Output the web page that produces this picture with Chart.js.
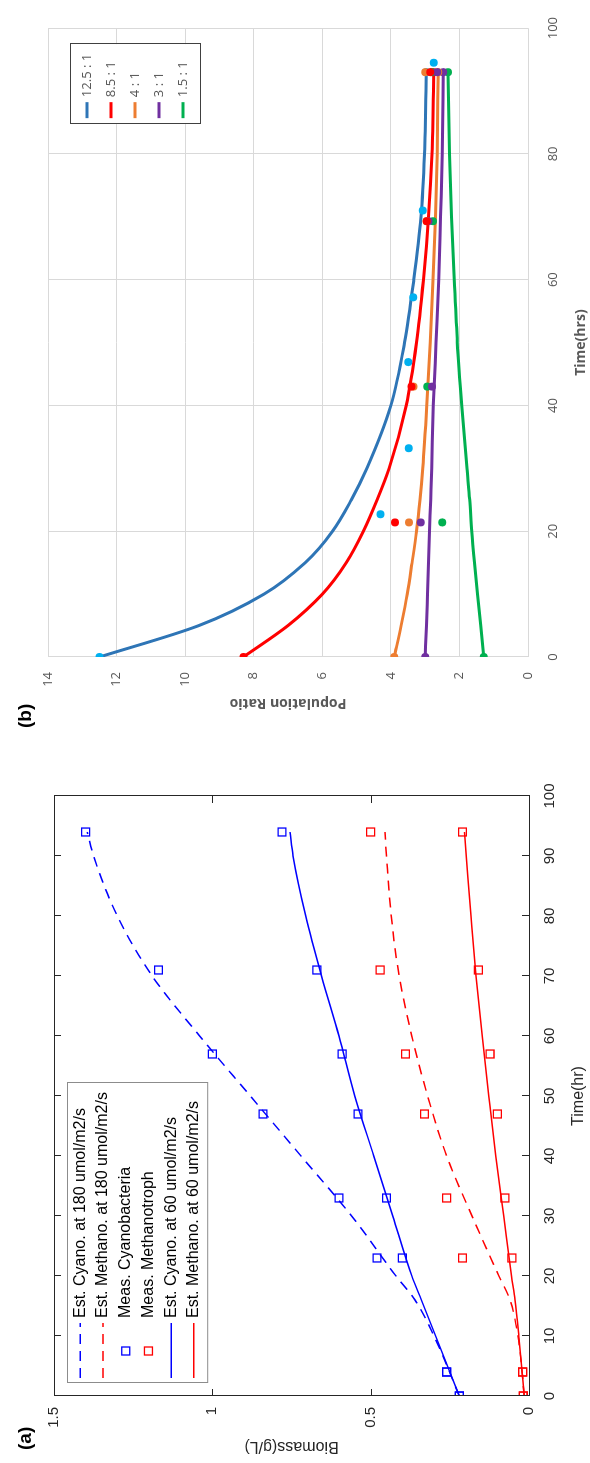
<!DOCTYPE html>
<html>
<head>
<meta charset="utf-8">
<script src="https://cdn.jsdelivr.net/npm/chart.js@4.4.1/dist/chart.umd.min.js"></script>
<style>
  html, body { margin: 0; padding: 0; background: #fff; width: 590px; height: 1463px; overflow: hidden; }
  /* The figure is laid out landscape and turned a quarter turn counter-clockwise */
  #fig { position: absolute; left: 0; top: 0; width: 1463px; height: 590px;
         transform-origin: 0 0; transform: translate(0, 1463px) rotate(-90deg); background: #fff; }
  #pa { position: absolute; left: 0; top: 0; width: 731px; height: 590px; }
  #pb { position: absolute; left: 731px; top: 0; width: 732px; height: 590px; }
  .tag { position: absolute; font: bold 19px "Liberation Sans", Arial, sans-serif; color: #000; }
</style>
</head>
<body>
<div id="fig">
  <canvas id="pa" width="731" height="590"></canvas>
  <canvas id="pb" width="732" height="590"></canvas>
  <div class="tag" style="left:13px; top:14px;">(a)</div>
  <div class="tag" style="left:735px; top:14px;">(b)</div>
</div>
<script>
// ---------- Panel (a): biomass vs time ----------
const fitTime       = [0, 10, 16, 20, 30, 40, 50, 60, 70, 80, 90, 94];
const estCyano180   = [0.22, 0.30, 0.36, 0.42, 0.56, 0.72, 0.88, 1.04, 1.19, 1.30, 1.375, 1.395];
const estMethano180 = [0.015, 0.035, 0.06, 0.095, 0.18, 0.26, 0.32, 0.37, 0.41, 0.435, 0.45, 0.455];
const estCyano60    = [0.22, 0.295, 0.34, 0.37, 0.43, 0.49, 0.55, 0.60, 0.655, 0.705, 0.745, 0.755];
const estMethano60  = [0.015, 0.032, 0.044, 0.055, 0.08, 0.105, 0.127, 0.148, 0.167, 0.183, 0.198, 0.204];

const sampleTime     = [0, 4, 23, 33, 47, 57, 71, 94];
const measCyano180   = [0.22, 0.26, 0.48, 0.60, 0.84, 1.00, 1.17, 1.40];
const measCyano60    = [0.22, 0.26, 0.40, 0.45, 0.54, 0.59, 0.67, 0.78];
const measMethano180 = [0.018, 0.02, 0.21, 0.26, 0.33, 0.39, 0.47, 0.50];
const measMethano60  = [0.018, 0.02, 0.054, 0.076, 0.10, 0.123, 0.16, 0.21];

const biomassTicks = [0, 0.5, 1, 1.5];

// ---------- Panel (b): population ratio vs time ----------
const ratioTime  = [0, 5, 10, 15, 20, 25, 30, 40, 50, 60, 70, 80, 93];
const ratio125   = [12.5, 9.6, 7.7, 6.5, 5.7, 5.15, 4.7, 4.0, 3.6, 3.33, 3.12, 3.02, 2.97];
const ratio85    = [8.3, 7.0, 6.0, 5.3, 4.8, 4.4, 4.05, 3.55, 3.25, 3.05, 2.9, 2.8, 2.75];
const ratio4     = [3.9, 3.7, 3.52, 3.38, 3.25, 3.15, 3.07, 2.95, 2.85, 2.77, 2.7, 2.65, 2.62];
const ratio3     = [3.0, 2.96, 2.93, 2.9, 2.87, 2.84, 2.81, 2.76, 2.68, 2.6, 2.55, 2.5, 2.47];
const ratio15    = [1.29, 1.38, 1.47, 1.56, 1.64, 1.7, 1.78, 1.93, 2.06, 2.15, 2.23, 2.29, 2.33];
const ratioNames = ['12.5 : 1', '8.5 : 1', '4 : 1', '3 : 1', '1.5 : 1'];

const obsTime125 = [22.7, 33.2, 46.9, 57.2, 71, 94.5];
const obs125     = [4.3, 3.48, 3.49, 3.35, 3.07, 2.75];
const obsTime85  = [21.4, 43, 69.3, 93];
const obs85      = [3.88, 3.4, 2.95, 2.85];
const obsTime4   = [21.4, 43, 69.3, 93];
const obs4       = [3.47, 3.34, 2.96, 3.0];
const obsTime3   = [21.4, 43, 69.3, 93];
const obs3       = [3.13, 2.8, 2.9, 2.65];
const obsTime15  = [21.4, 43, 69.3, 93];
const obs15      = [2.5, 2.94, 2.77, 2.81];

const pts = (xs, ys) => xs.map((x, i) => ({ x, y: ys[i] }));

// ---------- shared helpers ----------
const MATLAB_FONT = '"Liberation Sans", Arial, Helvetica, sans-serif';
const AXIS_INK = '#262626';

// Box with inward ticks on all four sides (MATLAB-style axes)
const boxTicks = {
  id: 'boxTicks',
  afterDatasetsDraw(chart) {
    const { ctx, chartArea: a, scales: { x, y } } = chart;
    const len = 7;
    ctx.save();
    ctx.strokeStyle = AXIS_INK;
    ctx.lineWidth = 1;
    ctx.beginPath();
    x.ticks.forEach(t => {
      const px = Math.round(x.getPixelForValue(t.value)) + 0.5;
      ctx.moveTo(px, a.bottom); ctx.lineTo(px, a.bottom - len);
      ctx.moveTo(px, a.top);    ctx.lineTo(px, a.top + len);
    });
    y.ticks.forEach(t => {
      const py = Math.round(y.getPixelForValue(t.value)) + 0.5;
      ctx.moveTo(a.left, py);  ctx.lineTo(a.left + len, py);
      ctx.moveTo(a.right, py); ctx.lineTo(a.right - len, py);
    });
    ctx.stroke();
    ctx.strokeRect(Math.round(a.left) + 0.5, Math.round(a.top) + 0.5,
                   Math.round(a.right - a.left), Math.round(a.bottom - a.top));
    ctx.restore();
  }
};

// MATLAB-style legend drawn inside the axes, north-west corner
const legendA = {
  id: 'legendA',
  afterDraw(chart) {
    const { ctx, chartArea: a } = chart;
    const order = [0, 1, 2, 3, 4, 5];
    const x0 = a.left + 13, y0 = a.top + 13;
    const rowH = 22.7, w = 300, h = rowH * order.length + 4;
    ctx.save();
    ctx.fillStyle = '#fff';
    ctx.fillRect(x0, y0, w, h);
    ctx.strokeStyle = '#8c8c8c';
    ctx.lineWidth = 1;
    ctx.strokeRect(Math.round(x0) + 0.5, Math.round(y0) + 0.5, w, h);
    ctx.font = '16px ' + MATLAB_FONT;
    ctx.textBaseline = 'middle';
    order.forEach((di, i) => {
      const ds = chart.data.datasets[di];
      const cy = y0 + 2 + rowH * (i + 0.5);
      if (ds.showLine === false) {
        ctx.strokeStyle = ds.pointBorderColor;
        ctx.lineWidth = 1.3;
        ctx.strokeRect(x0 + 32 - 4, cy - 4, 8, 8);
      } else {
        ctx.strokeStyle = ds.borderColor;
        ctx.lineWidth = 1.5;
        ctx.setLineDash(ds.borderDash || []);
        ctx.beginPath();
        ctx.moveTo(x0 + 5, cy); ctx.lineTo(x0 + 60, cy);
        ctx.stroke();
        ctx.setLineDash([]);
      }
      ctx.fillStyle = '#000';
      ctx.fillText(ds.label, x0 + 65, cy);
    });
    ctx.restore();
  }
};

const curveA = (label, xs, ys, color, dash) => ({
  label, data: pts(xs, ys), borderColor: color, borderWidth: 1.5,
  borderDash: dash, pointRadius: 0, tension: 0.4, cubicInterpolationMode: 'monotone',
  showLine: true, fill: false
});
const marksA = (label, data, color) => ({
  label, data, showLine: false, pointStyle: 'rect', pointRadius: 5.6,
  pointBorderColor: color, pointBackgroundColor: 'rgba(0,0,0,0)', pointBorderWidth: 1.3,
  borderColor: color, backgroundColor: 'rgba(0,0,0,0)'
});

new Chart(document.getElementById('pa'), {
  type: 'scatter',
  data: {
    datasets: [
      curveA('Est. Cyano. at 180 umol/m2/s', fitTime, estCyano180, '#0000ff', [10, 7]),
      curveA('Est. Methano. at 180 umol/m2/s', fitTime, estMethano180, '#ff0000', [10, 7]),
      marksA('Meas. Cyanobacteria', pts(sampleTime, measCyano180).concat(pts(sampleTime, measCyano60)), '#0000ff'),
      marksA('Meas. Methanotroph', pts(sampleTime, measMethano180).concat(pts(sampleTime, measMethano60)), '#ff0000'),
      curveA('Est. Cyano. at 60 umol/m2/s', fitTime, estCyano60, '#0000ff', []),
      curveA('Est. Methano. at 60 umol/m2/s', fitTime, estMethano60, '#ff0000', [])
    ]
  },
  options: {
    responsive: false, animation: false, devicePixelRatio: 1,
    layout: { padding: { left: 0, top: 54, right: 64, bottom: 0 } },
    plugins: { legend: { display: false }, tooltip: { enabled: false } },
    scales: {
      x: {
        type: 'linear', min: 0, max: 100,
        ticks: { stepSize: 10, color: AXIS_INK, font: { family: MATLAB_FONT, size: 15 }, padding: 12, maxRotation: 0 },
        grid: { display: false, drawTicks: false }, border: { display: false },
        title: { display: true, text: 'Time(hr)', color: AXIS_INK, font: { family: MATLAB_FONT, size: 16 }, padding: { top: 0, bottom: 1.4 } },
        afterFit: s => { s.height = 61; }
      },
      y: {
        type: 'linear', min: 0, max: 1.5,
        afterBuildTicks: s => { s.ticks = biomassTicks.map(v => ({ value: v })); },
        ticks: { color: AXIS_INK, font: { family: MATLAB_FONT, size: 15 }, padding: 11, callback: v => String(v) },
        grid: { display: false, drawTicks: false }, border: { display: false },
        title: { display: true, text: 'Biomass(g/L)', color: AXIS_INK, font: { family: MATLAB_FONT, size: 16 }, padding: { top: 7.4, bottom: 0 } },
        afterFit: s => { s.width = 67; }
      }
    }
  },
  plugins: [boxTicks, legendA]
});

// ---------- Panel (b) ----------
const EXCEL_FONT = '"Open Sans", "Liberation Sans", Arial, sans-serif';
const INK_B = '#595959';
const lineColors = ['#2e75b6', '#ff0000', '#ed7d31', '#7030a0', '#00b050'];
const dotColors  = ['#00b0f0', '#ff0000', '#ed7d31', '#7030a0', '#00b050'];
const curvesB = [ratio125, ratio85, ratio4, ratio3, ratio15];
const obsB = [[obsTime125, obs125], [obsTime85, obs85], [obsTime4, obs4], [obsTime3, obs3], [obsTime15, obs15]];

const dsB = [];
obsB.forEach(([xs, ys], i) => dsB.push({
  label: ratioNames[i] + ' obs', data: pts(xs, ys), showLine: false,
  pointRadius: 4, pointBackgroundColor: dotColors[i], pointBorderColor: dotColors[i], pointBorderWidth: 0
}));
curvesB.forEach((ys, i) => dsB.push({
  label: ratioNames[i], data: pts(ratioTime, ys), showLine: true,
  borderColor: lineColors[i], borderWidth: 3, tension: 0.4, cubicInterpolationMode: 'monotone',
  pointRadius: c => (c.dataIndex === 0 || c.dataIndex === ys.length - 1) ? 4 : 0,
  pointBackgroundColor: dotColors[i], pointBorderColor: dotColors[i], pointBorderWidth: 0
}));

const legendB = {
  id: 'legendB',
  afterDraw(chart) {
    const { ctx, chartArea: a } = chart;
    const x0 = a.right - 96, y0 = a.top + 22;
    const rowH = 24, w = 80, h = rowH * ratioNames.length + 10;
    ctx.save();
    ctx.fillStyle = '#fff';
    ctx.fillRect(x0, y0, w, h);
    ctx.strokeStyle = '#404040';
    ctx.lineWidth = 1;
    ctx.strokeRect(Math.round(x0) + 0.5, Math.round(y0) + 0.5, w, h);
    ctx.font = '13px ' + EXCEL_FONT;
    ctx.textBaseline = 'middle';
    ratioNames.forEach((name, i) => {
      const cy = y0 + 5 + rowH * (i + 0.5);
      ctx.strokeStyle = lineColors[i];
      ctx.lineWidth = 3;
      ctx.beginPath(); ctx.moveTo(x0 + 6, cy); ctx.lineTo(x0 + 22, cy); ctx.stroke();
      ctx.fillStyle = INK_B;
      ctx.fillText(name, x0 + 27, cy);
    });
    ctx.restore();
  }
};

new Chart(document.getElementById('pb'), {
  type: 'scatter',
  data: { datasets: dsB },
  options: {
    responsive: false, animation: false, devicePixelRatio: 1,
    layout: { padding: { left: 0, top: 48, right: 24, bottom: 0 } },
    plugins: { legend: { display: false }, tooltip: { enabled: false } },
    scales: {
      x: {
        type: 'linear', min: 0, max: 100,
        ticks: { stepSize: 20, color: INK_B, font: { family: EXCEL_FONT, size: 13 }, padding: 17, maxRotation: 0 },
        grid: { color: '#d9d9d9', drawTicks: false }, border: { display: false },
        title: { display: true, text: 'Time(hrs)', color: INK_B, font: { family: EXCEL_FONT, size: 14, weight: 'bold' }, padding: { top: 0, bottom: 0.6 } },
        afterFit: s => { s.height = 62; }
      },
      y: {
        type: 'linear', min: 0, max: 14,
        ticks: { stepSize: 2, color: INK_B, font: { family: EXCEL_FONT, size: 13 }, padding: 15 },
        grid: { color: '#d9d9d9', drawTicks: false }, border: { display: false },
        title: { display: true, text: 'Population Ratio', color: INK_B, font: { family: EXCEL_FONT, size: 14, weight: 'bold' }, padding: { top: 20.6, bottom: 0 } },
        afterFit: s => { s.width = 75; }
      }
    }
  },
  plugins: [legendB]
});
</script>
</body>
</html>
